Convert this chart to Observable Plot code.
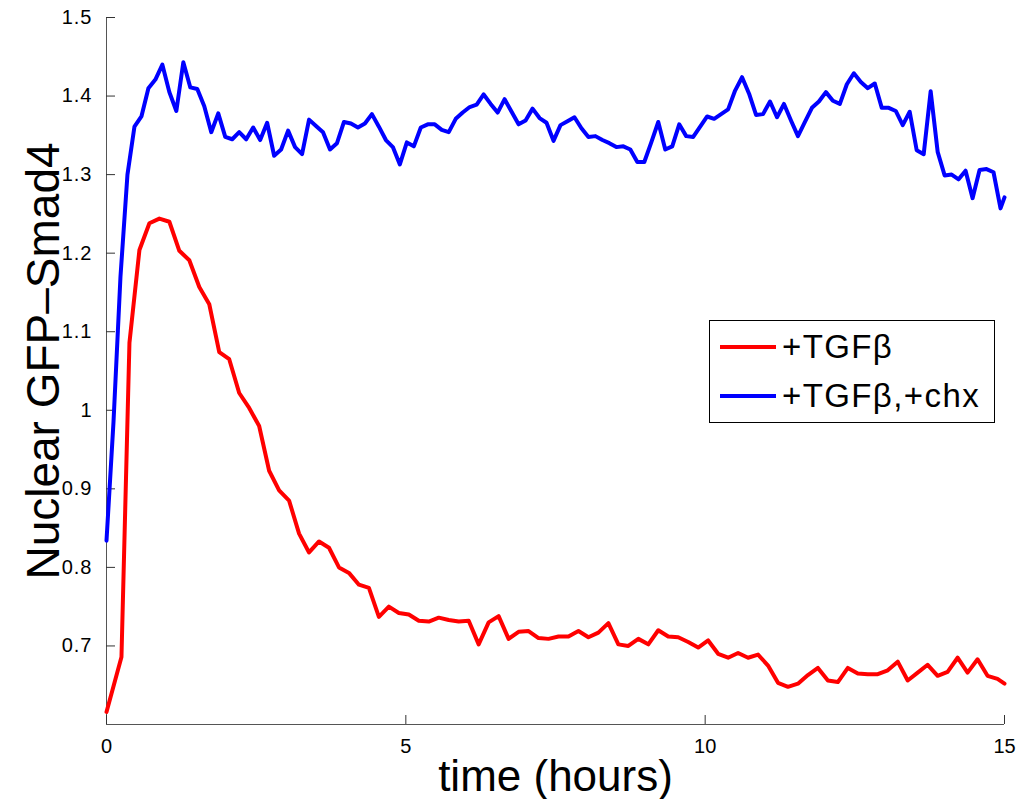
<!DOCTYPE html>
<html><head><meta charset="utf-8">
<script src="https://cdn.jsdelivr.net/npm/d3@7"></script>
<script src="https://cdn.jsdelivr.net/npm/@observablehq/plot@0.6"></script>
<style>
body{margin:0;background:#fff;}
#wrap{position:relative;width:1017px;height:799px;font-family:"Liberation Sans",Arial,Helvetica,sans-serif;}
#legend{position:absolute;left:709px;top:320px;width:284px;height:101px;border:1px solid #000;background:#fff;}
.row{position:absolute;left:0;height:40px;display:flex;align-items:center;font-size:33px;line-height:40px;letter-spacing:1.4px;white-space:nowrap;color:#000;}
.sw{width:56px;height:4px;margin-left:10px;margin-right:6px;flex:none;}
svg g[aria-label="y-axis tick label"] text{letter-spacing:1px;}
</style></head><body><div id="wrap"></div>
<script>
const seriesNames = ["+TGFβ", "+TGFβ,+chx"];
const seriesColors = ["#ff0000", "#0000ff"];
const xLabel = "time (hours)";
const yLabel = "Nuclear GFP\u2013Smad4";
const xTicks = [0, 5, 10, 15];
const xTickLabels = ["0", "5", "10", "15"];
const yTicks = [0.7, 0.8, 0.9, 1, 1.1, 1.2, 1.3, 1.4, 1.5];
const yTickLabels = ["0.7", "0.8", "0.9", "1", "1.1", "1.2", "1.3", "1.4", "1.5"];

// time in minutes
const tgfTimes = [0, 15,
  23, 33, 43, 53, 63, 73, 83, 93, 103, 113,
  123, 133, 143, 153, 163, 173, 183, 193, 203, 213,
  223, 233, 243, 253, 263, 273, 283, 293, 303, 313,
  323, 333, 343, 353, 363, 373, 383, 393, 403, 413,
  423, 433, 443, 453, 463, 473, 483, 493, 503, 513,
  523, 533, 543, 553, 563, 573, 583, 593, 603, 613,
  623, 633, 643, 653, 663, 673, 683, 693, 703, 713,
  723, 733, 743, 753, 763, 773, 783, 793, 803, 813,
  823, 833, 843, 853, 863, 873, 883, 893,
  900];
const tgfValues = [0.616, 0.686,
  1.086, 1.204, 1.238, 1.244, 1.240, 1.203, 1.191, 1.157, 1.135, 1.074,
  1.065, 1.022, 1.003, 0.980, 0.923, 0.898, 0.885, 0.843, 0.819, 0.833,
  0.825, 0.800, 0.793, 0.778, 0.774, 0.737, 0.750, 0.742, 0.740, 0.732,
  0.731, 0.736, 0.733, 0.731, 0.732, 0.702, 0.730, 0.738, 0.709, 0.718,
  0.719, 0.710, 0.709, 0.712, 0.712, 0.719, 0.711, 0.717, 0.729, 0.702,
  0.700, 0.709, 0.702, 0.720, 0.712, 0.711, 0.705, 0.698, 0.707, 0.690,
  0.685, 0.691, 0.685, 0.689, 0.675, 0.653, 0.648, 0.652, 0.663, 0.672,
  0.656, 0.654, 0.672, 0.665, 0.664, 0.664, 0.669, 0.680, 0.656, 0.666,
  0.676, 0.662, 0.667, 0.685, 0.666, 0.683, 0.662, 0.658,
  0.652];

const chxTimes = [0, 7, 14, 21, 28, 35, 42, 49, 56, 63,
  70, 77, 84, 91, 98, 105, 112, 119, 126, 133,
  140, 147, 154, 161, 168, 175, 182, 189, 196, 203,
  210, 217, 224, 231, 238, 245, 252, 259, 266, 273,
  280, 287, 294, 301, 308, 315, 322, 329, 336, 343,
  350, 357, 364, 371, 378, 385, 392, 399, 406, 413,
  420, 427, 434, 441, 448, 455, 462, 469, 476, 483,
  490, 497, 504, 511, 518, 525, 532, 539, 546, 553,
  560, 567, 574, 581, 588, 595, 602, 609, 616, 623,
  630, 637, 644, 651, 658, 665, 672, 679, 686, 693,
  700, 707, 714, 721, 728, 735, 742, 749, 756, 763,
  770, 777, 784, 791, 798, 805, 812, 819, 826, 833,
  840, 847, 854, 861, 868, 875, 882, 889, 896, 900];
const chxValues = [0.834, 0.985, 1.170, 1.300, 1.361, 1.374, 1.410, 1.421, 1.440, 1.405,
  1.381, 1.443, 1.411, 1.409, 1.387, 1.354, 1.378, 1.348, 1.345, 1.354,
  1.345, 1.360, 1.344, 1.366, 1.324, 1.332, 1.356, 1.335, 1.326, 1.370,
  1.362, 1.354, 1.332, 1.340, 1.367, 1.365, 1.360, 1.365, 1.377, 1.361,
  1.344, 1.335, 1.313, 1.341, 1.336, 1.360, 1.364, 1.364, 1.357, 1.354,
  1.371, 1.379, 1.386, 1.389, 1.402, 1.390, 1.379, 1.396, 1.380, 1.364,
  1.369, 1.384, 1.372, 1.366, 1.343, 1.363, 1.368, 1.373, 1.359, 1.348,
  1.349, 1.344, 1.340, 1.335, 1.336, 1.332, 1.316, 1.316, 1.341, 1.367,
  1.332, 1.336, 1.364, 1.349, 1.348, 1.361, 1.374, 1.371, 1.377, 1.383,
  1.407, 1.424, 1.403, 1.376, 1.377, 1.393, 1.373, 1.390, 1.369, 1.349,
  1.367, 1.385, 1.393, 1.405, 1.394, 1.390, 1.415, 1.429, 1.418, 1.410,
  1.416, 1.385, 1.385, 1.381, 1.363, 1.380, 1.331, 1.326, 1.406, 1.329,
  1.299, 1.300, 1.294, 1.305, 1.270, 1.306, 1.307, 1.303, 1.257, 1.271];

const tgf = tgfTimes.map((t, i) => ({t: t / 60, v: tgfValues[i]}));
const chx = chxTimes.map((t, i) => ({t: t / 60, v: chxValues[i]}));

const font = '"Liberation Sans", Arial, Helvetica, sans-serif';
const chart = Plot.plot({
  width: 1017, height: 799,
  marginLeft: 106, marginRight: 13, marginTop: 17, marginBottom: 75,
  style: {fontFamily: font, background: "#fff", color: "#000", overflow: "visible"},
  x: {domain: [0, 15]},
  y: {domain: [0.6, 1.5]},
  marks: [
    Plot.ruleX([0], {stroke: "#555", strokeWidth: 1}),
    Plot.ruleY([0.6], {stroke: "#555", strokeWidth: 1}),
    Plot.axisX({ticks: xTicks, tickFormat: d => xTickLabels[xTicks.indexOf(d)], tickSize: -9, tickPadding: 23, fontSize: 20, stroke: "#333", label: null}),
    Plot.axisY({ticks: yTicks, tickFormat: d => yTickLabels[yTicks.indexOf(d)], tickSize: -9, tickPadding: 23, fontSize: 20, stroke: "#333", label: null}),
    Plot.line(tgf, {x: "t", y: "v", stroke: seriesColors[0], strokeWidth: 4}),
    Plot.line(chx, {x: "t", y: "v", stroke: seriesColors[1], strokeWidth: 4}),
    Plot.text([xLabel], {text: d => d, frameAnchor: "bottom", dy: 66, fontSize: 44, lineAnchor: "bottom", fill: "#000"}),
    Plot.text([yLabel], {text: d => d, frameAnchor: "left", rotate: -90, dx: -48, dy: -10, fontSize: 46, lineAnchor: "bottom", textAnchor: "middle", fill: "#000"})
  ]
});
const wrap = document.getElementById("wrap");
wrap.appendChild(chart);

const legend = document.createElement("div");
legend.id = "legend";
seriesNames.forEach((name, i) => {
  const row = document.createElement("div");
  row.className = "row";
  row.style.top = (6 + i * 49) + "px";
  const sw = document.createElement("span");
  sw.className = "sw";
  sw.style.background = seriesColors[i];
  const tx = document.createElement("span");
  tx.textContent = name;
  row.appendChild(sw);
  row.appendChild(tx);
  legend.appendChild(row);
});
wrap.appendChild(legend);
</script>
</body></html>
